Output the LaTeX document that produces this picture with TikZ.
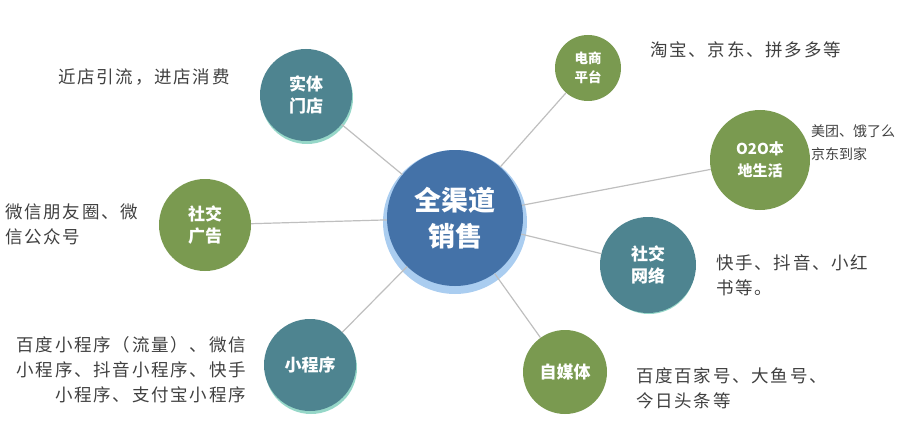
\documentclass[tikz,border=0pt]{standalone}
\usepackage{fontspec}
\setmainfont{Noto Sans CJK SC}
\newfontfamily\lblfont[LetterSpace=10]{Noto Sans CJK SC}
\begin{document}
\begin{tikzpicture}[x=1pt,y=-1pt,
  teal/.style={circle,fill={rgb,255:red,78;green,132;blue,144},text=white,font=\bfseries\fontsize{17}{22}\selectfont,align=center,inner sep=0pt},
  grn/.style={circle,fill={rgb,255:red,122;green,154;blue,80},text=white,font=\bfseries\fontsize{17}{22}\selectfont,align=center,inner sep=0pt},
  lbl/.style={text={rgb,255:red,64;green,64;blue,64},font=\lblfont\fontsize{17.5}{25}\selectfont,inner sep=0pt},
  ln/.style={draw={rgb,255:red,191;green,191;blue,191},line width=1.2pt}]
\useasboundingbox (0,0) rectangle (914,428);
\node[circle,minimum size=144,fill={rgb,255:red,170;green,205;blue,240}] (glow) at (455,222) {};
\node[teal,minimum size=92,fill={rgb,255:red,150;green,215;blue,200}] at (307,98) {};
\node[teal,minimum size=92,fill={rgb,255:red,150;green,215;blue,200}] at (649,268) {};
\node[teal,minimum size=92,fill={rgb,255:red,150;green,215;blue,200}] at (311,368) {};
\node[circle,minimum size=136,fill={rgb,255:red,68;green,114;blue,168},text=white,font=\bfseries\fontsize{27}{36}\selectfont,align=center] (c) at (455,218) {全渠道\\销售};
\node[teal,minimum size=92] (a) at (306,95) {实体\\门店};
\node[grn,minimum size=66,font=\bfseries\fontsize{13.5}{19}\selectfont] (b) at (588,68) {电商\\平台};
\node[grn,minimum size=100,font=\bfseries\fontsize{15}{22}\selectfont] (d) at (760,160) {O2O本\\地生活};
\node[grn,minimum size=92] (e) at (205,225) {社交\\广告};
\node[teal,minimum size=96] (f) at (648,265) {社交\\网络};
\node[teal,minimum size=92] (g) at (310,365) {小程序};
\node[grn,minimum size=84] (h) at (565,372) {自媒体};
\foreach \n in {a,b,d,e,f,g,h} \draw[ln] (c) -- (\n);
\node[lbl,anchor=west] at (58,77) {近店引流，进店消费};
\node[lbl,anchor=west] at (650,50) {淘宝、京东、拼多多等};
\node[lbl,anchor=west,align=left,font=\fontsize{14}{23}\selectfont] at (811,143) {美团、饿了么\\京东到家};
\node[lbl,anchor=west,align=left] at (5,224) {微信朋友圈、微\\信公众号};
\node[lbl,anchor=west,align=left] at (716,275) {快手、抖音、小红\\书等。};
\node[lbl,anchor=east,align=right] at (246,370) {百度小程序（流量）、微信\\小程序、抖音小程序、快手\\小程序、支付宝小程序};
\node[lbl,anchor=west,align=left] at (636,388) {百度百家号、大鱼号、\\今日头条等};
\end{tikzpicture}
\end{document}
